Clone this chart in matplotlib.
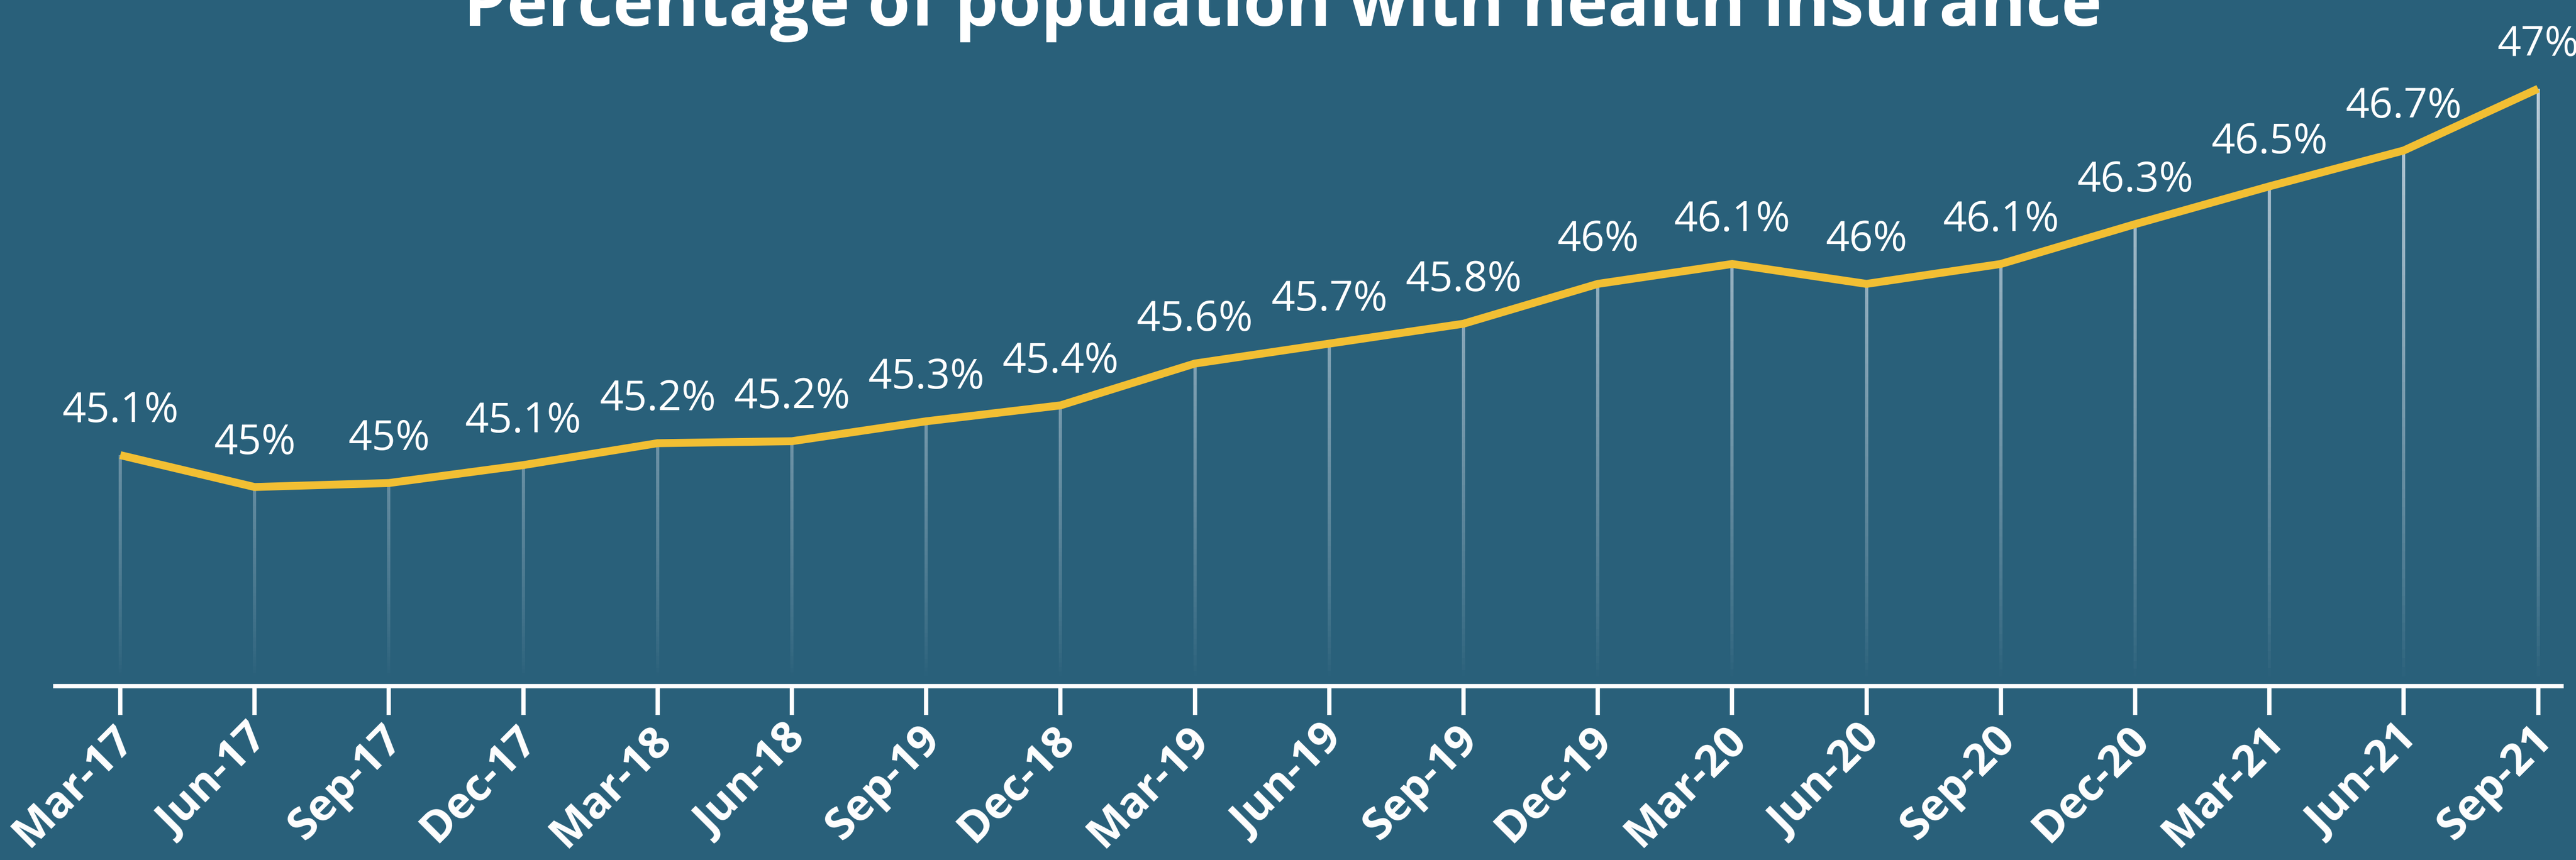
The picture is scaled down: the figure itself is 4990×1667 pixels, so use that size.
import numpy as np
import matplotlib.pyplot as plt
from matplotlib.collections import LineCollection
import matplotlib.transforms as mtransforms

# data
quarters = ['Mar-17', 'Jun-17', 'Sep-17', 'Dec-17', 'Mar-18', 'Jun-18', 'Sep-19',
            'Dec-18', 'Mar-19', 'Jun-19', 'Sep-19', 'Dec-19', 'Mar-20', 'Jun-20',
            'Sep-20', 'Dec-20', 'Mar-21', 'Jun-21', 'Sep-21']
values = [45.16, 45.00, 45.02, 45.11, 45.22, 45.23, 45.33, 45.41, 45.62, 45.72,
          45.82, 46.02, 46.12, 46.02, 46.12, 46.32, 46.51, 46.69, 47.00]
value_labels = ['45.1%', '45%', '45%', '45.1%', '45.2%', '45.2%', '45.3%', '45.4%',
                '45.6%', '45.7%', '45.8%', '46%', '46.1%', '46%', '46.1%', '46.3%',
                '46.5%', '46.7%', '47%']
title = 'Percentage of population with health insurance'

bg = '#29607a'
yellow = '#f2bf33'
W, H, DPI = 4990, 1667, 100

fig = plt.figure(figsize=(W / DPI, H / DPI), dpi=DPI, facecolor=bg)
ax = fig.add_axes([0, 0, 1, 1])
ax.set_facecolor(bg)

x = np.arange(len(values))
step = 260.2      # pixels between quarters
x0 = 233          # pixel of first quarter
ypx = 386         # pixels per percentage point
base = 44.0
ax.set_xlim(-x0 / step, (W - x0) / step)
ax.set_ylim(base - (H - 1330) / ypx, base + 1330 / ypx)

# drop lines, fading towards the axis
top, bot = 47.0, 44.05
segs, cols = [], []
for xi, v in zip(x, values):
    ys = np.linspace(bot, v, 60)
    for a, b in zip(ys[:-1], ys[1:]):
        segs.append([(xi, a), (xi, b)])
        al = 0.9 * np.clip((0.5 * (a + b) - bot) / (top - bot), 0, 1) ** 0.8
        cols.append((0.80, 0.85, 0.89, al))
ax.add_collection(LineCollection(segs, colors=cols, linewidths=4.5, zorder=2))

ax.plot(x, values, color=yellow, lw=11, solid_joinstyle='miter',
        solid_capstyle='butt', zorder=3)

for xi, v, lab in zip(x, values, value_labels):
    ax.annotate(lab, (xi, v), xytext=(0, 46), textcoords='offset points',
                ha='center', va='baseline', fontsize=58, color='white',
                family='Open Sans', zorder=4)

for s in ['top', 'left', 'right']:
    ax.spines[s].set_visible(False)
ax.spines['bottom'].set_position(('data', base))
ax.spines['bottom'].set_bounds((107 - x0) / step, (4962 - x0) / step)
ax.spines['bottom'].set_color('white')
ax.spines['bottom'].set_linewidth(6)

ax.set_yticks([])
ax.set_xticks(x)
ax.set_xticklabels(quarters, rotation=45, ha='right', va='center',
                   rotation_mode='anchor', fontsize=61, fontweight='bold',
                   color='white', family='Open Sans')
ax.tick_params(axis='x', length=40, width=6, color='white', pad=26, direction='out')
shift = mtransforms.ScaledTranslation(14 / DPI, 0, fig.dpi_scale_trans)
for t in ax.get_xticklabels():
    t.set_transform(t.get_transform() + shift)

fig.text(0.498, 1 - 50 / H, title, ha='center', va='baseline', fontsize=96,
         fontweight='bold', color='white', family='Open Sans')

fig.savefig('out.png', dpi=DPI, facecolor=bg)
